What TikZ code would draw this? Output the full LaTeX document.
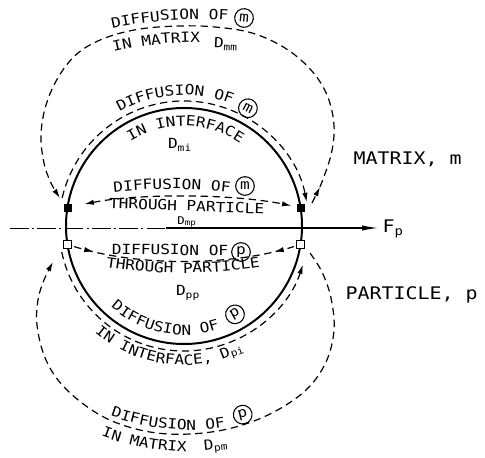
\documentclass[tikz,border=0pt]{standalone}
\usepackage{fontspec}
\setmainfont{DejaVu Sans}
\newfontfamily\lettering{DejaVu Sans Mono}[FakeStretch=1.15]
\usetikzlibrary{arrows.meta,decorations.text,decorations.markings}
\newcommand\lbl{\lettering\fontsize{10.5}{12}\selectfont}
\newcommand\sublbl{\lettering\fontsize{8}{9}\selectfont}
\newcommand\biglbl{\lettering\fontsize{13}{15}\selectfont}

\begin{document}
\begin{tikzpicture}[x=0.75pt,y=0.75pt,
  >={Latex[length=7pt,width=4pt]},
  flux/.style={line width=0.9pt,dash pattern=on 5.5pt off 3.5pt},
  wall/.style={line width=1.5pt},
  solidsq/.style={draw,fill=black,minimum size=5.5pt,inner sep=0pt},
  opensq/.style={draw,fill=white,line width=0.6pt,minimum size=5.5pt,inner sep=0pt},
  species/.style={draw,circle,line width=0.8pt,minimum size=14pt,inner sep=0pt,font=\lbl},
  arctext/.style={decorate,decoration={text along path,text align=center,text={|\lbl|#1}}},
  midarrows/.style={postaction={decorate,decoration={markings,
      mark=at position 0.1 with {\arrow{>}},
      mark=at position 0.9 with {\arrowreversed{>}}}}}]
\useasboundingbox (0,0) rectangle (485,457);

% particle and force axis
\coordinate (c) at (184,231);
\draw[wall] (c) circle[radius=118];
\coordinate (axl) at (10,229);
\coordinate (axm) at (166,229);
\node[anchor=base west,font=\biglbl] (fp) at (378,224) {F\textsubscript{p}};
\draw[line width=0.7pt,dash pattern=on 14pt off 2.5pt on 1.5pt off 2.5pt] (axl) -- (axm);
\draw[line width=0.9pt,-{Latex[length=12pt,width=4pt]}] (axm) -- (fp.west |- axm);

% sites on the surface
\node[solidsq] (sqml) at (67.5,249.5) {};
\node[solidsq] (sqmr) at (300.5,249.5) {};
\node[opensq] (sqpl) at (67.5,212.5) {};
\node[opensq] (sqpr) at (300.5,212.5) {};

% paths of m
\draw[flux,<->,shorten <=10pt,shorten >=4pt] (sqml) .. controls +(70,14) and +(-70,14) .. (sqmr);
\draw[flux,->] ([shift={(167:125)}]c) arc[start angle=167,end angle=11,radius=125];
\draw[flux,->] (312,254) -- (320,270);
\draw[flux,->] plot[smooth,tension=0.6] coordinates {(320,270) (331,302) (334,332) (327,362) (311,387) (285,409) (252,424) (215,430) (180,431) (140,428) (105,419) (78,404) (59,381) (46,352) (41,322) (44,294) (51,274) (60,259)};

% paths of p
\draw[flux,midarrows,shorten <=2pt,shorten >=2pt] (sqpl) .. controls +(70,-22) and +(-70,-22) .. (sqpr);
\draw[flux,->] ([shift={(192:125)}]c) arc[start angle=192,end angle=342,radius=125];
\draw[flux,->] plot[smooth,tension=0.6] coordinates {(310,204) (322,185) (331,159) (334,127) (326,95) (306,67) (272,44) (232,29) (190,23) (150,25) (112,36) (82,54) (58,77) (44,102) (37,132) (38,157) (44,177) (53,195)};

% labels, matrix side
\path[arctext={DIFFUSION OF}] ([shift={(110:401)}]200,37) arc[start angle=110,end angle=78.6,radius=401];
\node[species,rotate=-6] (m1) at (244,439) {m};
\path[arctext={IN MATRIX}] ([shift={(108:378)}]200,37) arc[start angle=108,end angle=85.2,radius=378];
\node[font=\lbl,rotate=-3] (dmm) at (226,413) {D\textsubscript{mm}};
\path[arctext={DIFFUSION OF}] ([shift={(125:131)}]c) arc[start angle=125,end angle=63,radius=131];
\node[species,rotate=-28] (m2) at ([shift={(61.5:134)}]c) {m};
\path[arctext={IN INTERFACE}] ([shift={(126:100)}]c) arc[start angle=126,end angle=52,radius=100];
\node[font=\lbl] (dmi) at (180,312) {D\textsubscript{mi}};
\path[arctext={DIFFUSION OF}] ([shift={(98:500)}]172,-232) arc[start angle=98,end angle=82,radius=500];
\node[species] (m3) at (245,271) {m};
\path[arctext={THROUGH PARTICLE}] (100,249) -- (273,243);
\node[font=\sublbl] (dmp) at (187,235) {D\textsubscript{mp}};

% labels, particle side
\path[arctext={DIFFUSION OF}] (95,202.5) -- (245,201.5);
\node[species] (p1) at (241,205) {p};
\path[arctext={THROUGH PARTICLE}] ([shift={(260:500)}]183,684) arc[start angle=260,end angle=280,radius=500];
\node[font=\lbl] (dpp) at (188,164) {D\textsubscript{pp}};
\path[arctext={DIFFUSION OF}] ([shift={(225:109)}]c) arc[start angle=225,end angle=292,radius=109];
\node[species,rotate=30] (p2) at ([shift={(300:102)}]c) {p};
\path[arctext={IN INTERFACE,}] ([shift={(222:139)}]c) arc[start angle=222,end angle=290,radius=139];
\node[font=\lbl,rotate=21] (dpi) at ([shift={(291:135)}]c) {D\textsubscript{pi}};
\path[arctext={DIFFUSION OF}] ([shift={(246:230)}]190,257) arc[start angle=246,end angle=282.6,radius=230];
\node[species,rotate=14] (p3) at ([shift={(283.8:221)}]190,257) {p};
\path[arctext={IN MATRIX}] ([shift={(245:252)}]190,257) arc[start angle=245,end angle=273.6,radius=252];
\node[font=\lbl,rotate=6] (dpm) at (216,11) {D\textsubscript{pm}};

% phases
\node[anchor=base west,font=\biglbl] (matrix) at (349,292) {MATRIX, m};
\node[anchor=base west,font=\biglbl] (particle) at (341,157) {PARTICLE, p};
\end{tikzpicture}
\end{document}
